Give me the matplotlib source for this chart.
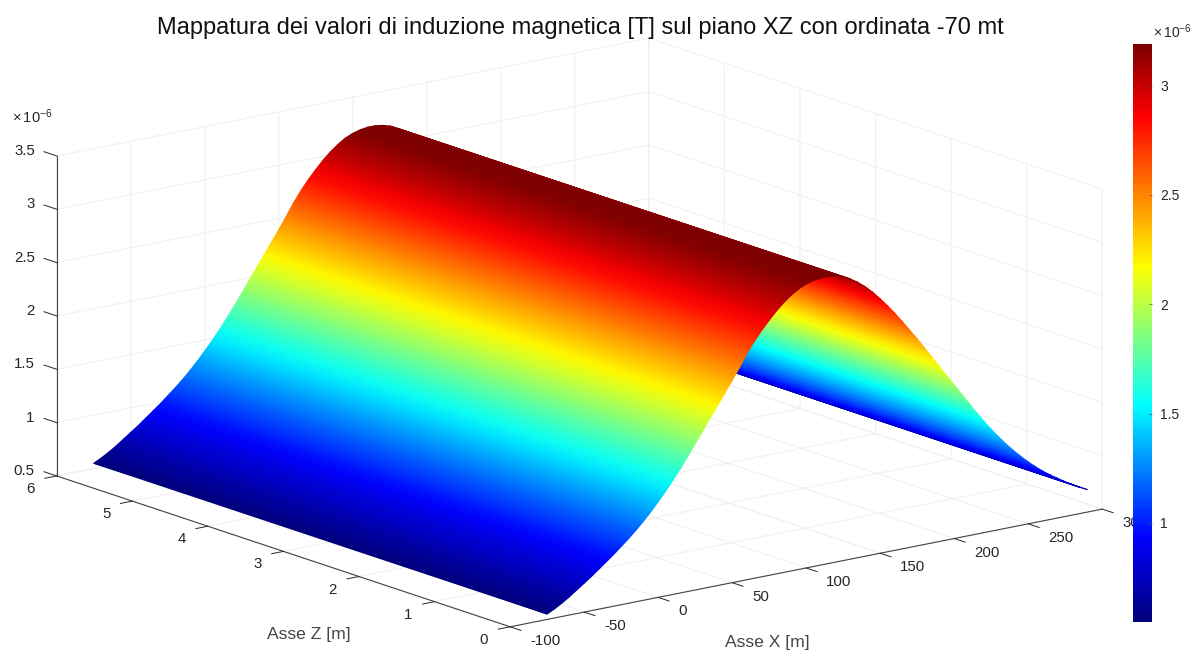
import numpy as np
from matplotlib import pyplot as plt
from matplotlib.colors import LinearSegmentedColormap, Normalize
from mpl_toolkits.mplot3d import proj3d

plt.rcParams["font.family"] = ["Liberation Sans", "DejaVu Sans"]
plt.rcParams["mathtext.default"] = "regular"

asse_x = list(range(-75, 295, 5))
induzione = [0.55, 0.585, 0.625, 0.67, 0.72, 0.77, 0.82, 0.875, 0.93, 0.985,
             1.045, 1.105, 1.17, 1.24, 1.315, 1.395, 1.48, 1.57, 1.665, 1.765,
             1.87, 1.975, 2.08, 2.185, 2.29, 2.395, 2.505, 2.62, 2.72, 2.81,
             2.89, 2.965, 3.03, 3.085, 3.13, 3.16, 3.18, 3.19, 3.19, 3.18,
             3.16, 3.125, 3.08, 3.025, 2.96, 2.885, 2.805, 2.72, 2.63, 2.535,
             2.44, 2.34, 2.24, 2.14, 2.04, 1.94, 1.84, 1.74, 1.64, 1.545,
             1.455, 1.37, 1.29, 1.215, 1.145, 1.08, 1.02, 0.965, 0.915, 0.87,
             0.825, 0.785, 0.745, 0.71]
asse_z = [0, 6]

x_ticks = [-100, -50, 0, 50, 100, 150, 200, 250, 300]
z_ticks = [0, 1, 2, 3, 4, 5, 6]
v_ticks = [0.5, 1, 1.5, 2, 2.5, 3, 3.5]
v_tick_labels = ["0.5", "1", "1.5", "2", "2.5", "3", "3.5"]
cbar_ticks = [1, 1.5, 2, 2.5, 3]
cbar_tick_labels = ["1", "1.5", "2", "2.5", "3"]
v_min, v_max = 0.547, 3.19

# colour stops
cmap_pos = [0, 0.147, 0.375, 0.614, 0.874, 1]
cmap_col = ["#00007a", "#0000ff", "#00ffff", "#ffff00", "#ff0000", "#7d0000"]

W, H = 1194, 651
TICK_COLOR = "#262626"

fig = plt.figure(figsize=(W / 100, H / 100), dpi=100, facecolor="white")
rect = [29 / W, -232 / H, 1072 / W, 1072 / H]
ax = fig.add_axes(rect, projection="3d", proj_type="ortho", facecolor="none")
ax.view_init(elev=14.9, azim=-127.7)
ax.set_box_aspect((748, 741, 331), zoom=1.0)

ax.set_xlim(-100, 300, view_margin=0)
ax.set_ylim(0, 6, view_margin=0)
ax.set_zlim(0.5, 3.5, view_margin=0)
ax.set_xticks(x_ticks)
ax.set_yticks(z_ticks)
ax.set_zticks(v_ticks)
ax.set_xticklabels([])
ax.set_yticklabels([])
ax.set_zticklabels([])
ax.tick_params(colors=TICK_COLOR)

for axis in (ax.xaxis, ax.yaxis, ax.zaxis):
    axis.set_pane_color((1, 1, 1, 0))
    axis.pane.set_edgecolor("none")
    axis.line.set_color("#444444")
    axis.line.set_linewidth(0.8)
    axis._axinfo["grid"].update(color="#f0f0f0", linewidth=0.8)
    axis._axinfo["tick"]["linewidth"] = {True: 0.7, False: 0.5}
ax.xaxis._axinfo["tick"].update(inward_factor=0.3, outward_factor=0.0)
ax.yaxis._axinfo["tick"].update(inward_factor=0.25, outward_factor=0.0)
ax.zaxis._axinfo["tick"].update(inward_factor=0.0, outward_factor=0.35)
ax.zaxis.set_ticks_position("upper")
# vertical ticks run along the Z direction as in the original
ax.zaxis._get_tickdir = lambda pos: 1


def project(xs, ys, zs):
    shape = np.shape(xs)
    px, py, _ = proj3d.proj_transform(np.ravel(xs).astype(float),
                                      np.ravel(ys).astype(float),
                                      np.ravel(zs).astype(float), ax.get_proj())
    return np.reshape(px, shape), np.reshape(py, shape)


# surface goes on a flat overlay so the colours can be gouraud shaded,
# far side first because the near slope has to hide it
X, Z = np.meshgrid(asse_x, asse_z)
V = np.tile(induzione, (len(asse_z), 1))
sx, sy = project(X, Z, V)

ov = fig.add_axes(rect, facecolor="none")
ov.set_xlim(ax.viewLim.intervalx)
ov.set_ylim(ax.viewLim.intervaly)
ov.axis("off")
cmap = LinearSegmentedColormap.from_list("colorbar_jet",
                                         list(zip(cmap_pos, cmap_col)), N=512)
surf = ov.pcolormesh(sx[:, ::-1], sy[:, ::-1], V[:, ::-1], shading="gouraud",
                     cmap=cmap, norm=Normalize(v_min, v_max))


def tick_labels(xs, ys, zs, labels, dx, dy, ha):
    px, py = project(xs, ys, zs)
    for a, b, s in zip(px, py, labels):
        ov.annotate(s, (a, b), xytext=(dx, -dy), textcoords="offset pixels",
                    ha=ha, va="center", fontsize=10.8, color=TICK_COLOR,
                    annotation_clip=False)


n_x, n_z, n_v = len(x_ticks), len(z_ticks), len(v_ticks)
tick_labels(x_ticks, [0] * n_x, [0.5] * n_x, [str(t) for t in x_ticks],
            20, 14, "left")
tick_labels([-100] * n_z, z_ticks, [0.5] * n_z, [str(t) for t in z_ticks],
            -22, 13, "right")
tick_labels([-100] * n_v, [6] * n_v, v_ticks, v_tick_labels, -22, -5, "right")


def px_text(x, y, s, **kw):
    kw.setdefault("ha", "center")
    kw.setdefault("va", "center")
    return fig.text(x / W, 1 - y / H, s, **kw)


px_text(580, 28, "Mappatura dei valori di induzione magnetica [T] sul piano "
        "XZ con ordinata -70 mt", fontsize=17, color="#111111")
px_text(309, 634, "Asse Z [m]", fontsize=12.6, color="#444444")
px_text(767, 642, "Asse X [m]", fontsize=12.6, color="#444444")
px_text(32, 117, r"$\times\,10^{-6}$", fontsize=10.5, color=TICK_COLOR)
px_text(1172, 32, r"$\times\,10^{-6}$", fontsize=10, color=TICK_COLOR)

cax = fig.add_axes([1133 / W, 1 - 622 / H, 19 / W, 578 / H])
cbar = fig.colorbar(surf, cax=cax)
cbar.set_ticks(cbar_ticks, labels=cbar_tick_labels)
cbar.ax.tick_params(labelsize=10, labelcolor=TICK_COLOR, length=2, width=0.5,
                    direction="in", color="#555555", pad=6)
cbar.outline.set_visible(False)

fig.savefig("out.png", dpi=100)
